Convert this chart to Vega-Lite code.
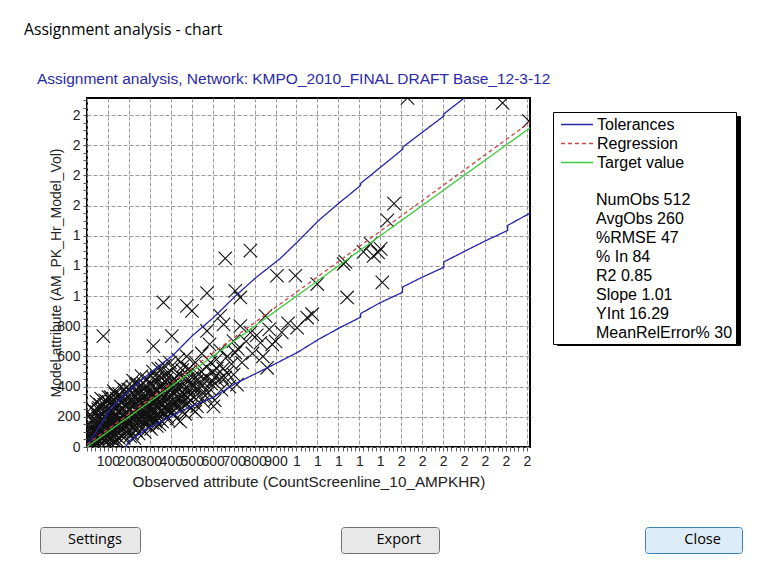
{
  "$schema": "https://vega.github.io/schema/vega-lite/v6.json",
  "width": 443,
  "height": 349,
  "autosize": {"type": "none"},
  "padding": {"left": 87, "top": 98, "right": 234, "bottom": 128},
  "background": "#ffffff",
  "title": {
    "text": "Assignment analysis - chart",
    "subtitle": "\u200b\u00a0\u00a0\u00a0Assignment analysis, Network: KMPO_2010_FINAL DRAFT Base_12-3-12",
    "anchor": "start",
    "frame": "group",
    "dx": -63,
    "offset": 4,
    "font": "Open Sans",
    "fontSize": 15.7,
    "fontWeight": "normal",
    "color": "#000000",
    "subtitleFont": "Liberation Sans",
    "subtitleFontSize": 15.5,
    "subtitleColor": "#2a2aa8",
    "subtitlePadding": 34
  },
  "datasets": {
    "obs": [
      {"x":5,"y":10},{"x":8,"y":40},{"x":10,"y":25},{"x":12,"y":90},{"x":15,"y":5},{"x":18,"y":60},{"x":20,"y":120},{"x":22,"y":30},{"x":25,"y":180},{"x":28,"y":15},
      {"x":30,"y":70},{"x":32,"y":240},{"x":35,"y":45},{"x":38,"y":110},{"x":40,"y":150},{"x":42,"y":20},{"x":45,"y":300},{"x":48,"y":85},{"x":50,"y":55},{"x":52,"y":200},
      {"x":55,"y":130},{"x":58,"y":260},{"x":60,"y":35},{"x":62,"y":95},{"x":65,"y":170},{"x":68,"y":320},{"x":70,"y":60},{"x":72,"y":140},{"x":75,"y":220},{"x":78,"y":100},
      {"x":80,"y":45},{"x":82,"y":280},{"x":85,"y":160},{"x":88,"y":75},{"x":90,"y":190},{"x":92,"y":120},{"x":95,"y":250},{"x":98,"y":65},
      {"x":100,"y":110},{"x":103,"y":330},{"x":105,"y":180},{"x":108,"y":60},{"x":110,"y":240},{"x":112,"y":140},{"x":115,"y":90},{"x":118,"y":300},{"x":120,"y":200},{"x":122,"y":45},
      {"x":125,"y":160},{"x":128,"y":370},{"x":130,"y":120},{"x":132,"y":260},{"x":135,"y":80},{"x":138,"y":210},{"x":140,"y":150},{"x":142,"y":320},{"x":145,"y":100},{"x":148,"y":180},
      {"x":150,"y":230},{"x":152,"y":60},{"x":155,"y":280},{"x":158,"y":140},{"x":160,"y":190},{"x":162,"y":400},{"x":165,"y":110},{"x":168,"y":250},{"x":170,"y":170},{"x":172,"y":80},
      {"x":175,"y":310},{"x":178,"y":210},{"x":180,"y":130},{"x":182,"y":270},{"x":185,"y":190},{"x":188,"y":350},{"x":190,"y":100},{"x":192,"y":230},{"x":195,"y":160},{"x":198,"y":290},
      {"x":200,"y":210},{"x":202,"y":120},{"x":205,"y":380},{"x":208,"y":250},{"x":210,"y":170},{"x":212,"y":310},{"x":215,"y":90},{"x":218,"y":230},{"x":220,"y":440},{"x":222,"y":190},
      {"x":225,"y":280},{"x":228,"y":140},{"x":230,"y":340},{"x":232,"y":210},{"x":235,"y":110},{"x":238,"y":260},{"x":240,"y":420},{"x":242,"y":180},{"x":245,"y":300},{"x":248,"y":230},
      {"x":250,"y":150},{"x":252,"y":360},{"x":255,"y":270},{"x":258,"y":200},{"x":260,"y":470},{"x":262,"y":120},{"x":265,"y":320},{"x":268,"y":240},{"x":270,"y":180},{"x":272,"y":390},
      {"x":275,"y":290},{"x":278,"y":150},{"x":280,"y":340},{"x":282,"y":220},{"x":285,"y":450},{"x":288,"y":260},{"x":290,"y":190},{"x":292,"y":310},{"x":295,"y":370},{"x":298,"y":130},
      {"x":300,"y":280},{"x":303,"y":210},{"x":305,"y":420},{"x":308,"y":330},{"x":310,"y":160},{"x":313,"y":250},{"x":315,"y":500},{"x":318,"y":360},{"x":320,"y":200},{"x":323,"y":300},
      {"x":325,"y":440},{"x":328,"y":230},{"x":330,"y":380},{"x":333,"y":140},{"x":335,"y":320},{"x":338,"y":270},{"x":340,"y":520},{"x":343,"y":190},{"x":345,"y":400},{"x":348,"y":300},
      {"x":350,"y":240},{"x":353,"y":460},{"x":355,"y":350},{"x":358,"y":170},{"x":360,"y":290},{"x":363,"y":410},{"x":365,"y":330},{"x":368,"y":220},{"x":370,"y":540},{"x":373,"y":380},
      {"x":375,"y":260},{"x":378,"y":310},{"x":380,"y":450},{"x":383,"y":200},{"x":385,"y":360},{"x":388,"y":280},{"x":390,"y":490},{"x":393,"y":330},{"x":395,"y":240},{"x":398,"y":420},
      {"x":400,"y":300},{"x":404,"y":380},{"x":408,"y":230},{"x":412,"y":520},{"x":416,"y":350},{"x":420,"y":270},{"x":424,"y":440},{"x":428,"y":190},{"x":432,"y":400},{"x":436,"y":580},
      {"x":440,"y":320},{"x":444,"y":250},{"x":448,"y":470},{"x":452,"y":360},{"x":456,"y":290},{"x":460,"y":540},{"x":464,"y":410},{"x":468,"y":220},{"x":472,"y":340},{"x":476,"y":600},
      {"x":480,"y":450},{"x":484,"y":300},{"x":488,"y":380},{"x":492,"y":500},{"x":496,"y":260},
      {"x":505,"y":420},{"x":512,"y":330},{"x":518,"y":560},{"x":525,"y":270},{"x":532,"y":480},{"x":540,"y":390},{"x":548,"y":620},{"x":555,"y":300},{"x":562,"y":450},{"x":570,"y":530},
      {"x":578,"y":360},{"x":585,"y":680},{"x":592,"y":420},{"x":600,"y":500},{"x":610,"y":310},{"x":618,"y":580},{"x":625,"y":440},{"x":635,"y":640},{"x":642,"y":380},{"x":650,"y":520},
      {"x":660,"y":460},{"x":670,"y":600},{"x":680,"y":400},{"x":690,"y":550},{"x":700,"y":480},
      {"x":720,"y":650},{"x":740,"y":560},{"x":760,"y":700},{"x":790,"y":620},{"x":810,"y":740},{"x":840,"y":600},{"x":870,"y":780},{"x":900,"y":700},{"x":930,"y":760},{"x":960,"y":820},
      {"x":7,"y":150},{"x":14,"y":210},{"x":24,"y":95},{"x":33,"y":15},{"x":44,"y":130},{"x":53,"y":250},{"x":63,"y":10},{"x":73,"y":180},{"x":84,"y":230},{"x":94,"y":30},
      {"x":106,"y":290},{"x":116,"y":20},{"x":126,"y":230},{"x":136,"y":350},{"x":146,"y":40},{"x":156,"y":120},{"x":166,"y":330},{"x":176,"y":60},{"x":186,"y":280},{"x":196,"y":380},
      {"x":206,"y":70},{"x":216,"y":400},{"x":226,"y":60},{"x":236,"y":360},{"x":246,"y":90},{"x":256,"y":410},{"x":266,"y":210},{"x":276,"y":100},{"x":286,"y":400},{"x":296,"y":250},
      {"x":306,"y":120},{"x":316,"y":460},{"x":326,"y":170},{"x":336,"y":380},{"x":346,"y":150},{"x":356,"y":520},{"x":366,"y":260},{"x":376,"y":430},{"x":386,"y":180},{"x":396,"y":560},
      {"x":415,"y":450},{"x":430,"y":310},{"x":455,"y":510},{"x":475,"y":280},{"x":495,"y":430},{"x":520,"y":380},{"x":545,"y":500},{"x":565,"y":340},{"x":590,"y":560},{"x":615,"y":470},
      {"x":3,"y":55},{"x":9,"y":130},{"x":16,"y":85},{"x":21,"y":260},{"x":27,"y":140},{"x":34,"y":190},{"x":39,"y":60},{"x":46,"y":230},{"x":51,"y":100},{"x":57,"y":160},
      {"x":64,"y":280},{"x":69,"y":120},{"x":76,"y":60},{"x":81,"y":200},{"x":87,"y":310},{"x":93,"y":150},{"x":99,"y":220},{"x":104,"y":70},{"x":109,"y":160},{"x":114,"y":330},
      {"x":119,"y":110},{"x":124,"y":280},{"x":129,"y":190},{"x":134,"y":40},{"x":139,"y":260},{"x":144,"y":200},{"x":149,"y":130},{"x":154,"y":350},{"x":159,"y":250},{"x":164,"y":170},
      {"x":169,"y":300},{"x":174,"y":120},{"x":179,"y":380},{"x":184,"y":230},{"x":189,"y":160},{"x":194,"y":330},{"x":199,"y":250},{"x":204,"y":150},{"x":209,"y":290},{"x":214,"y":200},
      {"x":219,"y":350},{"x":224,"y":130},{"x":229,"y":250},{"x":234,"y":410},{"x":239,"y":190},{"x":244,"y":320},{"x":249,"y":270},{"x":254,"y":180},{"x":259,"y":340},{"x":264,"y":280},
      {"x":269,"y":420},{"x":274,"y":220},{"x":279,"y":300},{"x":284,"y":170},{"x":289,"y":360},{"x":294,"y":320},{"x":299,"y":200},{"x":304,"y":360},{"x":309,"y":250},{"x":314,"y":410},
      {"x":319,"y":290},{"x":324,"y":190},{"x":329,"y":330},{"x":334,"y":460},{"x":339,"y":220},{"x":344,"y":350},{"x":349,"y":290},{"x":354,"y":410},{"x":359,"y":240},{"x":364,"y":370},
      {"x":369,"y":300},{"x":374,"y":480},{"x":379,"y":250},{"x":384,"y":420},{"x":389,"y":320},{"x":394,"y":380},{"x":402,"y":260},{"x":409,"y":440},{"x":417,"y":300},{"x":423,"y":380},
      {"x":431,"y":470},{"x":438,"y":280},{"x":446,"y":400},{"x":453,"y":330},{"x":461,"y":460},{"x":469,"y":380},{"x":478,"y":330},{"x":486,"y":520},{"x":494,"y":350},{"x":503,"y":460},
      {"x":511,"y":400},{"x":527,"y":440},{"x":537,"y":340},{"x":552,"y":410},{"x":568,"y":470},{"x":583,"y":390},{"x":598,"y":440},{"x":620,"y":520},{"x":645,"y":460},
      {"x":78,"y":735},{"x":365,"y":958},{"x":477,"y":935},{"x":501,"y":902},{"x":573,"y":1020},{"x":660,"y":1250},{"x":780,"y":1302},{"x":708,"y":1035},{"x":732,"y":991},{"x":907,"y":1135},
      {"x":995,"y":1135},{"x":1099,"y":1080},{"x":1242,"y":991},{"x":1410,"y":1091},{"x":1234,"y":1227},{"x":1530,"y":2313},{"x":1984,"y":2280},{"x":2110,"y":2160},{"x":1466,"y":1613},{"x":1434,"y":1502},
      {"x":1354,"y":1347},{"x":1402,"y":1313},{"x":1368,"y":1267},{"x":1225,"y":1213},{"x":1320,"y":1293},{"x":1390,"y":1290},{"x":852,"y":869},{"x":1003,"y":791},{"x":1051,"y":858},{"x":1075,"y":880},
      {"x":860,"y":525},{"x":828,"y":691},{"x":884,"y":680},{"x":780,"y":758},{"x":708,"y":625},{"x":668,"y":491},{"x":716,"y":413},{"x":604,"y":269},{"x":517,"y":235},{"x":445,"y":169},
      {"x":317,"y":669},{"x":405,"y":735},{"x":573,"y":769},{"x":652,"y":813},{"x":732,"y":802},{"x":636,"y":869},{"x":699,"y":702}
    ],
    "lines": [
      {"series":"Tolerances","part":"upper","x":0,"y":0},
      {"series":"Tolerances","part":"upper","x":30,"y":70},
      {"series":"Tolerances","part":"upper","x":110,"y":250},
      {"series":"Tolerances","part":"upper","x":206,"y":380},
      {"series":"Tolerances","part":"upper","x":300,"y":490},
      {"series":"Tolerances","part":"upper","x":412,"y":610},
      {"series":"Tolerances","part":"upper","x":501,"y":735},
      {"series":"Tolerances","part":"upper","x":604,"y":858},
      {"series":"Tolerances","part":"upper","x":708,"y":1000},
      {"series":"Tolerances","part":"upper","x":804,"y":1120},
      {"series":"Tolerances","part":"upper","x":923,"y":1250},
      {"series":"Tolerances","part":"upper","x":1005,"y":1360},
      {"series":"Tolerances","part":"upper","x":1105,"y":1500},
      {"series":"Tolerances","part":"upper","x":1206,"y":1620},
      {"series":"Tolerances","part":"upper","x":1306,"y":1733},
      {"series":"Tolerances","part":"upper","x":1307,"y":1748},
      {"series":"Tolerances","part":"upper","x":1507,"y":1973},
      {"series":"Tolerances","part":"upper","x":1508,"y":1988},
      {"series":"Tolerances","part":"upper","x":1703,"y":2193},
      {"series":"Tolerances","part":"upper","x":1704,"y":2208},
      {"series":"Tolerances","part":"upper","x":1900,"y":2420},
      {"series":"Tolerances","part":"lower","x":185,"y":0},
      {"series":"Tolerances","part":"lower","x":200,"y":40},
      {"series":"Tolerances","part":"lower","x":300,"y":130},
      {"series":"Tolerances","part":"lower","x":397,"y":200},
      {"series":"Tolerances","part":"lower","x":500,"y":270},
      {"series":"Tolerances","part":"lower","x":604,"y":330},
      {"series":"Tolerances","part":"lower","x":708,"y":420},
      {"series":"Tolerances","part":"lower","x":860,"y":524},
      {"series":"Tolerances","part":"lower","x":1005,"y":627},
      {"series":"Tolerances","part":"lower","x":1105,"y":713},
      {"series":"Tolerances","part":"lower","x":1206,"y":790},
      {"series":"Tolerances","part":"lower","x":1306,"y":860},
      {"series":"Tolerances","part":"lower","x":1307,"y":885},
      {"series":"Tolerances","part":"lower","x":1402,"y":958},
      {"series":"Tolerances","part":"lower","x":1506,"y":1025},
      {"series":"Tolerances","part":"lower","x":1507,"y":1060},
      {"series":"Tolerances","part":"lower","x":1600,"y":1125},
      {"series":"Tolerances","part":"lower","x":1703,"y":1191},
      {"series":"Tolerances","part":"lower","x":1704,"y":1227},
      {"series":"Tolerances","part":"lower","x":1800,"y":1295},
      {"series":"Tolerances","part":"lower","x":1900,"y":1365},
      {"series":"Tolerances","part":"lower","x":2008,"y":1435},
      {"series":"Tolerances","part":"lower","x":2009,"y":1469},
      {"series":"Tolerances","part":"lower","x":2115,"y":1550},
      {"series":"Regression","part":"reg","x":0,"y":16.29},
      {"series":"Regression","part":"reg","x":2115,"y":2152.4},
      {"series":"Target value","part":"tgt","x":0,"y":0},
      {"series":"Target value","part":"tgt","x":2115,"y":2115}
    ],
    "shadow": [
      {"s2":"Tolerances"},{"s2":"Regression"},{"s2":"Target value"}
    ],
    "buttons": [
      {"a":"Settings","b":"Export","c":"Close"}
    ]
  },
  "layer": [
    {
      "data": {"name": "obs"},
      "mark": {"type": "point", "shape": "M-1,-1L1,1M-1,1L1,-1", "filled": false, "stroke": "#111111", "strokeWidth": 1.1, "size": 180, "opacity": 1, "clip": true},
      "encoding": {
        "x": {
          "field": "x",
          "type": "quantitative",
          "scale": {"domain": [0, 2115], "nice": false, "zero": false},
          "axis": {
            "title": "Observed attribute (CountScreenline_10_AMPKHR)",
            "tickCount": 80,
            "labelOverlap": false,
            "labelBound": false,
            "labelFlush": false,
            "labelExpr": "(datum.value % 100 !== 0 || datum.value === 0) ? '' : (datum.value >= 1000 ? format(datum.value / 1000, '.0f') : format(datum.value, 'd'))",
            "gridOpacity": {"condition": {"test": "datum.value % 100 === 0", "value": 1}, "value": 0},
            "labelPadding": 3,
            "titlePadding": 6,
            "titleFontSize": 15.3
          }
        },
        "y": {
          "field": "y",
          "type": "quantitative",
          "scale": {"domain": [0, 2313], "nice": false, "zero": false},
          "axis": {
            "title": "Model attribute (AM_PK_Hr_Model_Vol)",
            "tickCount": 40,
            "labelOverlap": false,
            "labelBound": false,
            "labelFlush": false,
            "labelExpr": "datum.value % 200 !== 0 ? '' : (datum.value >= 1000 ? format(datum.value / 1000, '.0f') : format(datum.value, 'd'))",
            "gridOpacity": {"condition": {"test": "datum.value % 200 === 0", "value": 1}, "value": 0},
            "labelPadding": 3,
            "titlePadding": -7,
            "titleFontSize": 14
          }
        }
      }
    },
    {
      "data": {"name": "lines"},
      "mark": {"type": "line", "strokeWidth": 1.3, "clip": true},
      "encoding": {
        "x": {"field": "x", "type": "quantitative"},
        "y": {"field": "y", "type": "quantitative"},
        "detail": {"field": "part", "type": "nominal"},
        "color": {
          "field": "series",
          "type": "nominal",
          "scale": {"domain": ["Tolerances", "Regression", "Target value"], "range": ["#2424a8", "#cc4444", "#3ccc3c"]},
          "legend": {
            "orient": "none",
            "legendX": 466,
            "legendY": 14,
            "zindex": 2,
            "title": ["\u200b\u00a0\u00a0\u00a0\u00a0\u00a0\u00a0\u00a0\u00a0\u00a0NumObs 512", "\u200b\u00a0\u00a0\u00a0\u00a0\u00a0\u00a0\u00a0\u00a0\u00a0AvgObs 260", "\u200b\u00a0\u00a0\u00a0\u00a0\u00a0\u00a0\u00a0\u00a0\u00a0%RMSE 47", "\u200b\u00a0\u00a0\u00a0\u00a0\u00a0\u00a0\u00a0\u00a0\u00a0% In 84", "\u200b\u00a0\u00a0\u00a0\u00a0\u00a0\u00a0\u00a0\u00a0\u00a0R2 0.85", "\u200b\u00a0\u00a0\u00a0\u00a0\u00a0\u00a0\u00a0\u00a0\u00a0Slope 1.01", "\u200b\u00a0\u00a0\u00a0\u00a0\u00a0\u00a0\u00a0\u00a0\u00a0YInt 16.29", "\u200b\u00a0\u00a0\u00a0\u00a0\u00a0\u00a0\u00a0\u00a0\u00a0MeanRelError% 30"],
            "titleOrient": "bottom",
            "titleAnchor": "start",
            "titleAlign": "left",
            "titleFont": "Liberation Sans",
            "titleFontSize": 16,
            "titleFontWeight": "normal",
            "titleColor": "#000000",
            "titleLineHeight": 19,
            "titlePadding": 21,
            "labelFont": "Liberation Sans",
            "labelFontSize": 16,
            "labelColor": "#000000",
            "symbolType": "M-1.88,0H1.88",
            "symbolSize": 289,
            "symbolStrokeWidth": 1.5,
            "symbolOpacity": 1,
            "symbolOffset": 11.5,
            "labelOffset": 10.5,
            "rowPadding": 1,
            "padding": 3,
            "strokeColor": "#000000",
            "fillColor": "#ffffff"
          }
        },
        "strokeDash": {
          "field": "series",
          "type": "nominal",
          "scale": {"domain": ["Tolerances", "Regression", "Target value"], "range": [[1, 0], [4, 3], [1, 0]]}
        }
      }
    },
    {
      "data": {"name": "shadow"},
      "mark": {"type": "point", "opacity": 0},
      "encoding": {
        "strokeWidth": {
          "field": "s2",
          "type": "ordinal",
          "scale": {"range": [1, 1, 1]},
          "legend": {
            "orient": "none",
            "legendX": 470,
            "legendY": 18,
            "zindex": 1,
            "title": ["\u200b\u00a0\u00a0\u00a0\u00a0\u00a0\u00a0\u00a0\u00a0\u00a0NumObs 512", "\u200b\u00a0\u00a0\u00a0\u00a0\u00a0\u00a0\u00a0\u00a0\u00a0AvgObs 260", "\u200b\u00a0\u00a0\u00a0\u00a0\u00a0\u00a0\u00a0\u00a0\u00a0%RMSE 47", "\u200b\u00a0\u00a0\u00a0\u00a0\u00a0\u00a0\u00a0\u00a0\u00a0% In 84", "\u200b\u00a0\u00a0\u00a0\u00a0\u00a0\u00a0\u00a0\u00a0\u00a0R2 0.85", "\u200b\u00a0\u00a0\u00a0\u00a0\u00a0\u00a0\u00a0\u00a0\u00a0Slope 1.01", "\u200b\u00a0\u00a0\u00a0\u00a0\u00a0\u00a0\u00a0\u00a0\u00a0YInt 16.29", "\u200b\u00a0\u00a0\u00a0\u00a0\u00a0\u00a0\u00a0\u00a0\u00a0MeanRelError% 30"],
            "titleOrient": "bottom",
            "titleAnchor": "start",
            "titleAlign": "left",
            "titleFont": "Liberation Sans",
            "titleFontSize": 16,
            "titleFontWeight": "normal",
            "titleColor": "#000000",
            "titleOpacity": 0,
            "titleLineHeight": 19,
            "titlePadding": 21,
            "labelFont": "Liberation Sans",
            "labelFontSize": 16,
            "labelColor": "#000000",
            "labelOpacity": 0,
            "symbolType": "M-1.88,0H1.88",
            "symbolSize": 289,
            "symbolOpacity": 0,
            "symbolOffset": 11.5,
            "labelOffset": 10.5,
            "rowPadding": 1,
            "padding": 3,
            "strokeColor": "#000000",
            "fillColor": "#000000"
          }
        }
      }
    },
    {
      "data": {"name": "buttons"},
      "mark": {"type": "point", "opacity": 0, "filled": true},
      "encoding": {
        "shape": {
          "field": "a",
          "type": "nominal",
          "legend": {
            "orient": "none", "legendX": -47, "legendY": 429, "title": null,
            "labelExpr": "'\u200b\u00a0\u00a0' + datum.label + '\u00a0\u00a0\u00a0\u200b'",
            "labelFont": "Open Sans", "labelFontSize": 14.5, "labelColor": "#000000",
            "symbolOpacity": 0, "symbolSize": 0, "labelOffset": 0, "padding": 6,
            "fillColor": "#e8e8e8", "strokeColor": "#707070", "cornerRadius": 3
          }
        },
        "fill": {
          "field": "b",
          "type": "nominal",
          "scale": {"range": ["#ffffff"]},
          "legend": {
            "orient": "none", "legendX": 254, "legendY": 429, "title": null,
            "labelExpr": "'\u200b\u00a0\u00a0\u00a0\u00a0' + datum.label + '\u00a0\u00a0\u00a0\u200b'",
            "labelFont": "Open Sans", "labelFontSize": 14.5, "labelColor": "#000000",
            "symbolOpacity": 0, "symbolSize": 0, "labelOffset": 0, "padding": 6,
            "fillColor": "#e8e8e8", "strokeColor": "#707070", "cornerRadius": 3
          }
        },
        "stroke": {
          "field": "c",
          "type": "nominal",
          "scale": {"range": ["#ffffff"]},
          "legend": {
            "orient": "none", "legendX": 558, "legendY": 429, "title": null,
            "labelExpr": "'\u200b\u00a0\u00a0\u00a0\u00a0\u00a0' + datum.label + '\u00a0\u00a0\u00a0\u00a0\u200b'",
            "labelFont": "Open Sans", "labelFontSize": 14.5, "labelColor": "#000000",
            "symbolOpacity": 0, "symbolSize": 0, "labelOffset": 0, "padding": 6,
            "fillColor": "#dcecf8", "strokeColor": "#3c7fb1", "cornerRadius": 3
          }
        }
      }
    }
  ],
  "config": {
    "font": "Liberation Sans",
    "view": {"stroke": "#000000", "strokeWidth": 2},
    "axis": {
      "domain": false,
      "grid": true,
      "gridColor": "#9a9a9a",
      "gridDash": [4, 2],
      "gridWidth": 1,
      "ticks": true,
      "tickSize": 4,
      "tickColor": "#555555",
      "tickWidth": 1,
      "labelFont": "Liberation Sans",
      "labelFontSize": 14,
      "labelColor": "#222222",
      "titleFont": "Liberation Sans",
      "titleFontSize": 14,
      "titleFontWeight": "normal",
      "titleColor": "#222222"
    }
  }
}
